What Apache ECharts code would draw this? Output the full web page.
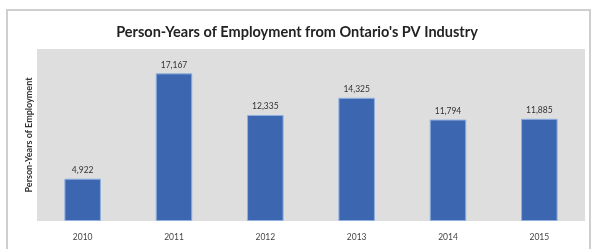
<!DOCTYPE html>
<html>
<head>
<meta charset="utf-8">
<script src="https://cdn.jsdelivr.net/npm/echarts@6/dist/echarts.min.js"></script>
<style>
  html, body { margin: 0; padding: 0; background: #fff; }
  #chart { width: 594px; height: 249px; }
</style>
</head>
<body>
<div id="chart"></div>
<script>
// data
const years = ['2010', '2011', '2012', '2013', '2014', '2015']
const personYears = [4922, 17167, 12335, 14325, 11794, 11885]

const chart = echarts.init(document.getElementById('chart'))

chart.setOption({
  animation: false,
  textStyle: { fontFamily: 'Lato, "Open Sans", sans-serif' },
  // outer frame of the picture
  graphic: [{
    type: 'rect',
    shape: { x: 7, y: 10, width: 583, height: 260 },
    style: { fill: 'none', stroke: '#cfcfcf', lineWidth: 2 },
    silent: true
  }],
  title: {
    text: "Person-Years of Employment from Ontario's PV Industry",
    left: 'center',
    top: 20,
    textStyle: {
      fontSize: 14.5,
      fontWeight: 'bold',
      color: '#222'
    }
  },
  grid: {
    left: 37,
    right: 9,
    top: 49,
    bottom: 28,
    show: true,
    backgroundColor: '#dedede',
    borderWidth: 0
  },
  xAxis: {
    type: 'category',
    data: years,
    axisLine: { show: false },
    axisTick: { show: false },
    axisLabel: {
      fontSize: 8.5,
      color: '#444',
      margin: 12
    }
  },
  yAxis: {
    type: 'value',
    min: 0,
    max: 20000,
    name: 'Person-Years of Employment',
    nameLocation: 'middle',
    nameGap: 3,
    nameTextStyle: {
      fontSize: 9,
      fontWeight: 'bold',
      color: '#333'
    },
    axisLine: { show: false },
    axisTick: { show: false },
    axisLabel: { show: false },
    splitLine: { show: false }
  },
  series: [{
    type: 'bar',
    data: personYears,
    barWidth: '40%',
    itemStyle: {
      color: '#3c66b0',
      borderColor: '#8fb0e0',
      borderWidth: 1
    },
    label: {
      show: true,
      position: 'top',
      distance: 4,
      fontSize: 8.5,
      color: '#333',
      formatter: (p) => p.value.toLocaleString('en-US')
    }
  }]
})
</script>
</body>
</html>
